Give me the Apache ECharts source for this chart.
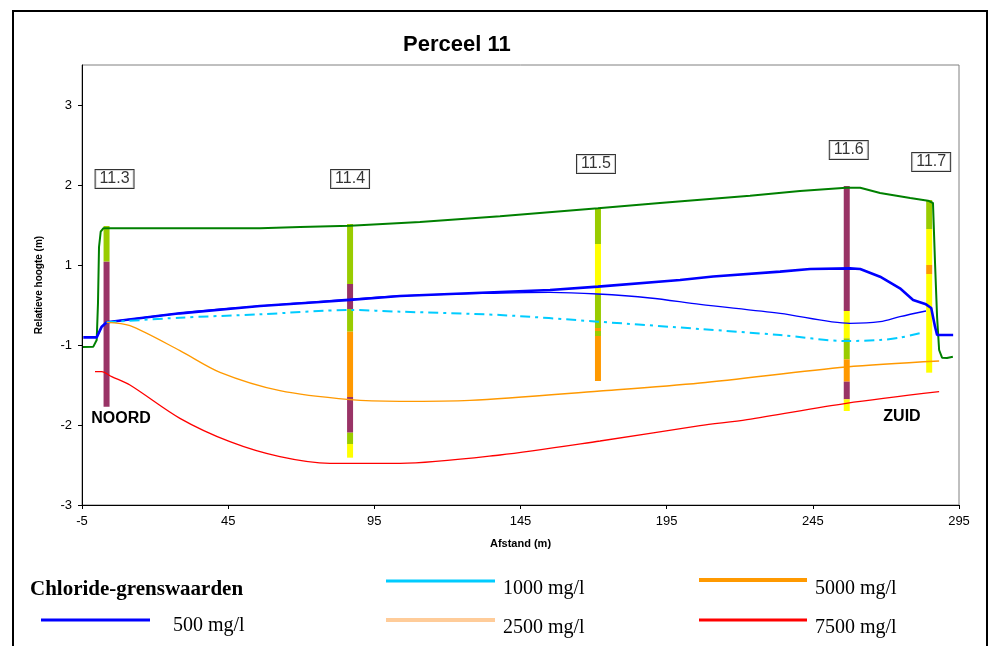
<!DOCTYPE html>
<html>
<head>
<meta charset="utf-8">
<script src="https://cdn.jsdelivr.net/npm/echarts@6/dist/echarts.min.js"></script>
<style>
  html, body { margin: 0; padding: 0; background: #fff; }
  #chart { width: 999px; height: 646px; }
</style>
</head>
<body>
<div id="chart"></div>
<script>
// ---- Profile data: distance (m) and relative height (m) ----
// Surface level
const surfaceX = [-4.66, -1.13, 0.03, 0.47, 0.82, 1.4, 2.29, 55.9, 69.6, 86.7, 110.6, 138, 171.5, 192.7, 223.5, 240.6, 256.4, 261.2, 268, 278.3, 284.4, 286.1, 286.8, 287.5, 288.2, 289.2, 290.9, 292.9];
const surfaceY = [-0.63, -0.625, -0.525, 0.03, 0.87, 1.10, 1.15, 1.15, 1.17, 1.19, 1.245, 1.33, 1.45, 1.53, 1.64, 1.71, 1.76, 1.76, 1.68, 1.605, 1.565, 1.53, 0.63, -0.18, -0.675, -0.79, -0.795, -0.775];

// 500 mg/l chloride boundary (upper)
const cl500X = [-4.56, 0.03, 1.74, 3.45, 28.5, 55.9, 86.7, 103.8, 155.1, 171.5, 199.6, 210.9, 233.8, 244.1, 257.7, 261.2, 268, 274.8, 279.3, 283.7, 285.5, 286.1, 286.8, 287.5, 293];
const cl500Y = [-0.485, -0.485, -0.325, -0.26, -0.125, -0.015, 0.075, 0.135, 0.225, 0.275, 0.375, 0.428, 0.5, 0.54, 0.55, 0.54, 0.425, 0.25, 0.075, 0.01, -0.045, -0.175, -0.325, -0.45, -0.45];

// 500 mg/l chloride boundary (lower)
const cl500bX = [3.45, 35.4, 69.6, 103.8, 138, 155.1, 171.5, 189.3, 206.4, 233.8, 257.7, 268, 274.8, 283.7];
const cl500bY = [-0.26, -0.09, 0.03, 0.135, 0.18, 0.19, 0.165, 0.105, 0.01, -0.125, -0.275, -0.25, -0.175, -0.09];

// 1000 mg/l chloride boundary
const cl1000X = [3.45, 28.5, 55.9, 86.7, 103.8, 138, 171.5, 206.4, 233.8, 256.4, 268, 274.8, 282.4];
const cl1000Y = [-0.26, -0.19, -0.14, -0.075, -0.1, -0.15, -0.25, -0.36, -0.45, -0.54, -0.525, -0.49, -0.415];

// 2500 mg/l chloride boundary
const cl2500X = [3.45, 11.4, 28.5, 42.2, 62.7, 86.7, 103.8, 127.7, 172.2, 206.4, 256.4, 288.2];
const cl2500Y = [-0.26, -0.31, -0.685, -1.01, -1.285, -1.42, -1.445, -1.43, -1.29, -1.17, -0.93, -0.84];

// 7500 mg/l chloride boundary
const cl7500X = [-0.55, 1.74, 5.16, 11.4, 28.5, 45.6, 62.7, 79.8, 103.8, 138, 172.2, 206.4, 222.5, 256.4, 288.2];
const cl7500Y = [-1.0, -1.0, -1.075, -1.2, -1.7, -2.05, -2.275, -2.375, -2.375, -2.25, -2.04, -1.81, -1.72, -1.475, -1.3];

// Boreholes: position, layer boundaries (top to bottom) and chloride class per layer
const boreholeNames = ['11.3', '11.4', '11.5', '11.6', '11.7'];
const boreholeX = [3.4, 86.7, 171.5, 256.6, 284.8];
const boreholeBounds = [
  [1.185, 0.65, -1.525],
  [1.215, 0.315, -0.06, -0.40, -1.38, -1.915, -2.085, -2.29],
  [1.455, 0.915, 0.165, -0.345, -0.39, -0.465, -1.14],
  [1.785, -0.09, -0.5, -0.815, -1.15, -1.415, -1.59],
  [1.575, 1.14, 0.6, 0.465, -1.015]
];
// class codes: 'P' purple, 'G' green, 'Y' yellow, 'O' orange
const boreholeClasses = [
  ['G', 'P'],
  ['G', 'P', 'G', 'O', 'P', 'G', 'Y'],
  ['G', 'Y', 'G', 'O', 'G', 'O'],
  ['P', 'Y', 'G', 'O', 'P', 'Y'],
  ['G', 'Y', 'O', 'Y']
];

// Axis ticks
const xMin = -5, xMax = 295, xStep = 50;
const yMin = -3, yMax = 3.6, yStep = 1.2;

// ---- Styling ----
const classColor = { P: '#993366', G: '#99CC00', Y: '#FFFF00', O: '#FF9900' };
const labelOffsets = [[8, -47], [0, -45], [-2, -44], [2, -36], [2, -38]];
const sansFont = 'Arial, "Liberation Sans", sans-serif';
const serifFont = '"Times New Roman", "Liberation Serif", serif';

const zip = (xs, ys) => xs.map((x, i) => [x, ys[i]]);

const segments = [];
boreholeX.forEach((x, b) => {
  const bounds = boreholeBounds[b];
  boreholeClasses[b].forEach((c, k) => {
    segments.push([x, bounds[k], bounds[k + 1], c]);
  });
});

const chart = echarts.init(document.getElementById('chart'), null, { renderer: 'canvas' });

function lineSeries(name, data, color, width, extra) {
  return Object.assign({
    name: name,
    type: 'line',
    data: data,
    symbol: 'none',
    z: 3,
    lineStyle: { color: color, width: width },
    itemStyle: { color: color },
    animation: false
  }, extra || {});
}

const option = {
  animation: false,
  backgroundColor: '#ffffff',
  title: {
    text: 'Perceel 11',
    left: 398,
    top: 29,
    textStyle: { fontFamily: sansFont, fontSize: 22, fontWeight: 'bold', color: '#000' }
  },
  grid: {
    left: 82, right: 40, top: 65, bottom: 141,
    show: true, borderColor: '#808080', borderWidth: 1, backgroundColor: '#fff'
  },
  xAxis: {
    type: 'value',
    min: xMin, max: xMax, interval: xStep,
    name: 'Afstand (m)',
    nameLocation: 'middle',
    nameGap: 33,
    nameTextStyle: { fontFamily: sansFont, fontSize: 11, fontWeight: 'bold', color: '#000' },
    axisLine: { onZero: false, lineStyle: { color: '#000', width: 1 } },
    axisTick: { show: true, length: 4, lineStyle: { color: '#000' } },
    axisLabel: { fontFamily: sansFont, fontSize: 13, color: '#000', margin: 10 },
    splitLine: { show: false }
  },
  yAxis: {
    type: 'value',
    min: yMin, max: yMax, interval: yStep,
    name: 'Relatieve hoogte (m)',
    nameLocation: 'middle',
    nameGap: 38,
    nameTextStyle: { fontFamily: sansFont, fontSize: 10, fontWeight: 'bold', color: '#000' },
    axisLine: { show: true, onZero: false, lineStyle: { color: '#000', width: 1 } },
    axisTick: { show: true, length: 4, lineStyle: { color: '#000' } },
    axisLabel: {
      fontFamily: sansFont, fontSize: 13, color: '#000', margin: 10,
      showMaxLabel: false,
      formatter: v => (v > yMax - 0.3 ? '' : String(Math.round(v)))
    },
    splitLine: { show: false }
  },
  series: [
    {
      name: 'boringen',
      type: 'custom',
      z: 2,
      data: segments,
      encode: { x: 0, y: [1, 2] },
      renderItem: function (params, api) {
        const x = api.value(0);
        const p1 = api.coord([x, api.value(1)]);
        const p2 = api.coord([x, api.value(2)]);
        const c = segments[params.dataIndex][3];
        return {
          type: 'rect',
          shape: { x: p1[0] - 3, y: p1[1], width: 6, height: p2[1] - p1[1] },
          style: { fill: classColor[c] }
        };
      }
    },
    {
      name: 'boornummers',
      type: 'scatter',
      symbolSize: 0,
      z: 4,
      data: boreholeNames.map((n, i) => ({
        name: n,
        value: [boreholeX[i], boreholeBounds[i][0]],
        label: { offset: labelOffsets[i] }
      })),
      label: {
        show: true,
        position: 'inside',
        formatter: p => p.name,
        fontFamily: sansFont,
        fontSize: 16,
        lineHeight: 16,
        color: '#000',
        backgroundColor: '#fff',
        borderColor: '#000',
        borderWidth: 1,
        padding: [1, 4, 1, 4]
      }
    },
    lineSeries('maaiveld', zip(surfaceX, surfaceY), '#008000', 2),
    lineSeries('500 mg/l', zip(cl500X, cl500Y), '#0000FF', 2.6),
    lineSeries('500 mg/l onder', zip(cl500bX, cl500bY), '#0000FF', 1.3, { smooth: 0.3 }),
    lineSeries('1000 mg/l', zip(cl1000X, cl1000Y), '#00CCFF', 2, {
      smooth: 0.3,
      lineStyle: { color: '#00CCFF', width: 2, type: [10, 5, 3, 5] }
    }),
    lineSeries('2500 mg/l', zip(cl2500X, cl2500Y), '#FF9900', 1.3, { smooth: 0.3 }),
    lineSeries('7500 mg/l', zip(cl7500X, cl7500Y), '#FF0000', 1.3, { smooth: 0.3 })
  ],
  graphic: [
    // outer frame
    { type: 'rect', shape: { x: 13, y: 11, width: 974, height: 660 }, style: { fill: 'none', stroke: '#000', lineWidth: 2 }, z: 100 },
    // section end markers
    { type: 'text', x: 121, y: 419, style: { text: 'NOORD', font: 'bold 16px ' + sansFont, fill: '#000', textAlign: 'center', textVerticalAlign: 'middle' }, z: 100 },
    { type: 'text', x: 902, y: 417, style: { text: 'ZUID', font: 'bold 16px ' + sansFont, fill: '#000', textAlign: 'center', textVerticalAlign: 'middle' }, z: 100 },
    // legend
    { type: 'text', x: 30, y: 590, style: { text: 'Chloride-grenswaarden', font: 'bold 21px ' + serifFont, fill: '#000', textVerticalAlign: 'middle' }, z: 100 },
    { type: 'line', shape: { x1: 41, y1: 620, x2: 150, y2: 620 }, style: { stroke: '#0000FF', lineWidth: 3 }, z: 100 },
    { type: 'text', x: 173, y: 626, style: { text: '500 mg/l', font: '20px ' + serifFont, fill: '#000', textVerticalAlign: 'middle' }, z: 100 },
    { type: 'line', shape: { x1: 386, y1: 581, x2: 495, y2: 581 }, style: { stroke: '#00CCFF', lineWidth: 3 }, z: 100 },
    { type: 'text', x: 503, y: 589, style: { text: '1000 mg/l', font: '20px ' + serifFont, fill: '#000', textVerticalAlign: 'middle' }, z: 100 },
    { type: 'line', shape: { x1: 386, y1: 620, x2: 495, y2: 620 }, style: { stroke: '#FFCC99', lineWidth: 4 }, z: 100 },
    { type: 'text', x: 503, y: 628, style: { text: '2500 mg/l', font: '20px ' + serifFont, fill: '#000', textVerticalAlign: 'middle' }, z: 100 },
    { type: 'line', shape: { x1: 699, y1: 580, x2: 807, y2: 580 }, style: { stroke: '#FF9900', lineWidth: 4 }, z: 100 },
    { type: 'text', x: 815, y: 589, style: { text: '5000 mg/l', font: '20px ' + serifFont, fill: '#000', textVerticalAlign: 'middle' }, z: 100 },
    { type: 'line', shape: { x1: 699, y1: 620, x2: 807, y2: 620 }, style: { stroke: '#FF0000', lineWidth: 3 }, z: 100 },
    { type: 'text', x: 815, y: 628, style: { text: '7500 mg/l', font: '20px ' + serifFont, fill: '#000', textVerticalAlign: 'middle' }, z: 100 }
  ]
};

chart.setOption(option);
</script>
</body>
</html>
